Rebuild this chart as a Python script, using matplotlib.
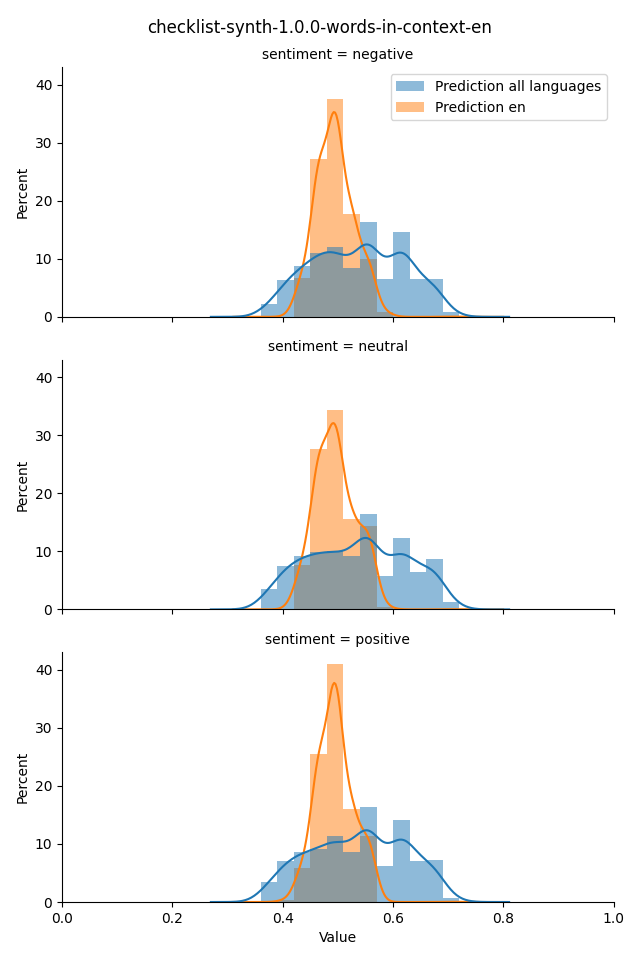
import numpy as np
import pandas as pd
import matplotlib
matplotlib.use('Agg')
import matplotlib.pyplot as plt
import seaborn as sns

# bins of the prediction histograms (width 0.03, from 0.36 to 0.72)
bin_edges = [0.36, 0.39, 0.42, 0.45, 0.48, 0.51, 0.54, 0.57, 0.60, 0.63, 0.66, 0.69, 0.72]
bin_centers = [round(a + 0.015, 3) for a in bin_edges[:-1]]

sentiments = ['negative', 'neutral', 'positive']

# percent per bin
negative_all = [2.2, 6.3, 8.7, 11.0, 11.95, 8.45, 16.3, 6.5, 14.6, 6.5, 6.5, 0.75]
negative_en = [0, 0.05, 6.7, 27.1, 37.5, 17.7, 9.95, 0.75, 0, 0, 0, 0.05]
neutral_all = [3.5, 7.4, 9.0, 9.7, 10.0, 9.0, 16.2, 5.7, 12.1, 6.4, 8.5, 1.2]
neutral_en = [0, 0.05, 7.6, 27.6, 34.3, 15.5, 14.3, 0.5, 0, 0, 0, 0.05]
positive_all = [3.45, 7.07, 8.6, 9.1, 11.4, 8.56, 16.4, 6.2, 14.1, 7.1, 7.2, 0.75]
positive_en = [0, 0.3, 5.9, 25.5, 41.0, 16.0, 11.4, 0, 0, 0, 0, 0.05]

all_lists = [negative_all, neutral_all, positive_all]
en_lists = [negative_en, neutral_en, positive_en]

fig, axes = plt.subplots(3, 1, figsize=(6.4, 9.6), sharex=True, sharey=True)

for ax, sentiment, pct_all, pct_en in zip(axes, sentiments, all_lists, en_lists):
    df_all = pd.DataFrame({'Value': bin_centers, 'pct': pct_all})
    df_en = pd.DataFrame({'Value': bin_centers, 'pct': pct_en})
    df_en = df_en[df_en.pct > 0]
    # en first, so "all languages" sits on top (like seaborn's hue layering)
    sns.histplot(data=df_en, x='Value', weights='pct', bins=bin_edges, stat='percent',
                 kde=True, kde_kws=dict(cut=3, bw_adjust=0.5),
                 color='C1', alpha=0.5, linewidth=0,
                 label='Prediction en', ax=ax)
    sns.histplot(data=df_all, x='Value', weights='pct', bins=bin_edges, stat='percent',
                 kde=True, kde_kws=dict(cut=4, bw_adjust=0.4),
                 color='C0', alpha=0.5, linewidth=0,
                 label='Prediction all languages', ax=ax)
    ax.set_title('sentiment = {}'.format(sentiment), fontsize=10)
    ax.set_ylabel('Percent')
    ax.set_xlabel('')
    ax.set_xlim(0, 1)
    sns.despine(ax=ax)

handles, labels = axes[0].get_legend_handles_labels()
axes[0].legend(handles[::-1], labels[::-1], loc='upper right')
axes[-1].set_xlabel('Value')
fig.suptitle('checklist-synth-1.0.0-words-in-context-en')
fig.subplots_adjust(left=0.097, right=0.959, bottom=0.0604, top=0.930, hspace=0.172)
fig.savefig('out.png', dpi=100)
